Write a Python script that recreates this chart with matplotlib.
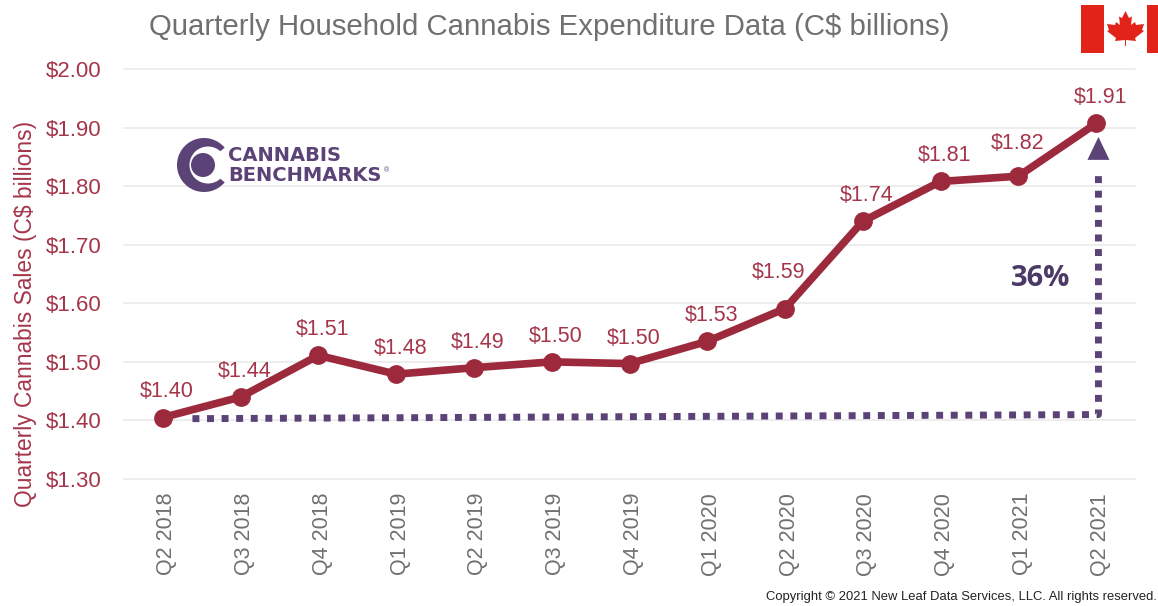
import matplotlib
matplotlib.use('Agg')
import matplotlib.pyplot as plt
from matplotlib.patches import Rectangle, Wedge, Circle, Polygon
from matplotlib.transforms import ScaledTranslation

plt.rcParams['font.family'] = ['Liberation Sans', 'DejaVu Sans']

quarters = ['Q2 2018', 'Q3 2018', 'Q4 2018', 'Q1 2019', 'Q2 2019', 'Q3 2019', 'Q4 2019',
            'Q1 2020', 'Q2 2020', 'Q3 2020', 'Q4 2020', 'Q1 2021', 'Q2 2021']
sales = [1.405, 1.44, 1.511, 1.479, 1.49, 1.5, 1.497, 1.535, 1.591, 1.74, 1.808, 1.817, 1.907]
labels = ['$1.40', '$1.44', '$1.51', '$1.48', '$1.49', '$1.50', '$1.50',
          '$1.53', '$1.59', '$1.74', '$1.81', '$1.82', '$1.91']
yticks = [1.3, 1.4, 1.5, 1.6, 1.7, 1.8, 1.9, 2.0]
dot_x = [0.38, 12.03, 12.03]
dot_y = [1.403, 1.41, 1.83]

RED = '#a5354a'
LINE = '#9c2a3c'
PURPLE = '#5c4377'
GREY = '#707070'
W, H = 1158, 606

fig = plt.figure(figsize=(W / 100, H / 100), dpi=100)
ax = fig.add_axes([124 / W, 1 - 479 / H, (1135 - 124) / W, (479 - 69) / H])
x = range(len(quarters))

ax.set_xlim(-0.5, 12.5)
ax.set_ylim(1.3, 2.0)
ax.set_yticks(yticks)
ax.set_yticklabels(['$%.2f' % v for v in yticks], fontsize=16, color=RED)
ax.set_xticks(list(x))
ax.set_xticklabels(quarters, rotation=90, fontsize=15.5, color=GREY)
ax.tick_params(length=0)
ax.tick_params(axis='x', pad=10)
ax.tick_params(axis='y', pad=16)
# labels sit a few px right of the tick in the original
for lab in ax.get_xticklabels():
    lab.set_transform(lab.get_transform() + ScaledTranslation(4 / 100, 0, fig.dpi_scale_trans))
ax.grid(axis='y', color='#e8e8e8', lw=1.1, clip_on=False)
ax.set_axisbelow(True)
for s in ax.spines.values():
    s.set_visible(False)

# dotted growth marker
ax.plot(dot_x, dot_y, color=PURPLE, lw=5, ls=(0, (1, 1.1)), zorder=2)
ax.annotate('', xy=(12.03, 1.884), xytext=(12.03, 1.84), zorder=3,
            arrowprops=dict(arrowstyle='-|>,head_width=0.36,head_length=0.75', color=PURPLE,
                            lw=0, shrinkA=0, shrinkB=0, mutation_scale=22))
ax.text(11.29, 1.6415, '36%', fontsize=21, fontweight='bold', color='#4b3a66', ha='center', va='center',
        family=['Open Sans', 'DejaVu Sans'])

ax.plot(x, sales, color=LINE, lw=5.5, marker='o', ms=12.5, zorder=4, solid_capstyle='round')
# most labels sit the same way, these two were moved by hand in the original
nudge = {'$1.59': (-6, 26), '$1.82': (-1, 22)}
for i, (v, t) in enumerate(zip(sales, labels)):
    ax.annotate(t, (i, v), xytext=nudge.get(t, (4, 15)), textcoords='offset pixels', ha='center', va='bottom',
                fontsize=15.5, color=RED)

fig.text(26 / W, 1 - 314 / H, 'Quarterly Cannabis Sales (C$ billions)', rotation=90, fontsize=16.4,
         color=RED, ha='center', va='center')
fig.text(549 / W, 1 - 27 / H, 'Quarterly Household Cannabis Expenditure Data (C$ billions)', fontsize=21.2,
         color=GREY, ha='center', va='center')
fig.text(1157 / W, 1 - 597 / H, 'Copyright © 2021 New Leaf Data Services, LLC. All rights reserved.',
         fontsize=9.35, color='#222222', ha='right', va='center')

# overlay in pixel coords for logo and flag
ov = fig.add_axes([0, 0, 1, 1], facecolor='none')
ov.set_xlim(0, W)
ov.set_ylim(H, 0)
ov.axis('off')

# logo
ov.add_patch(Wedge((204, 165), 27, 40, 320, color=PURPLE, lw=0))
ov.add_patch(Circle((208, 165), 18.5, color='white', lw=0))
ov.add_patch(Circle((203, 165), 12, color=PURPLE, lw=0))
ov.text(228, 155.5, 'CANNABIS', fontsize=14, color=PURPLE, va='center', ha='left',
        family=['DejaVu Sans'], fontweight='bold')
ov.text(228, 175.5, 'BENCHMARKS', fontsize=14, color=PURPLE, va='center', ha='left',
        family=['DejaVu Sans'], fontweight='bold')
ov.text(386, 171, '®', fontsize=5, color=PURPLE, va='center', ha='center')

# flag
FLAG = '#e2231a'
ov.add_patch(Rectangle((1081, 5), 23, 48, color=FLAG, lw=0))
ov.add_patch(Rectangle((1147, 5), 11, 48, color=FLAG, lw=0))
leaf = [(1125.5, 11), (1129, 18), (1132, 16.5), (1131, 25), (1135, 22), (1136, 25), (1144, 24),
        (1142, 30), (1144, 31), (1135, 38), (1136, 41), (1126, 40), (1126, 46), (1125, 46),
        (1125, 40), (1115, 41), (1116, 38), (1107, 31), (1109, 30), (1107, 24), (1115, 25),
        (1116, 22), (1120, 25), (1119, 16.5), (1122, 18)]
ov.add_patch(Polygon(leaf, closed=True, color=FLAG, lw=0))

fig.savefig('out.png', dpi=100)
